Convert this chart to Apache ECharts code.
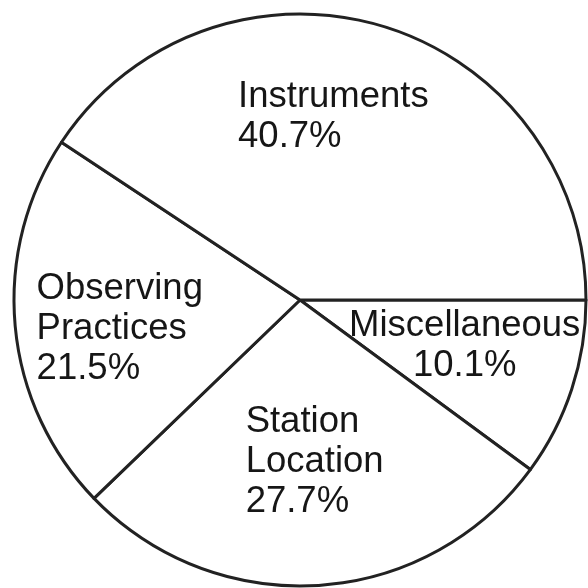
<!DOCTYPE html>
<html>
<head>
<meta charset="utf-8">
<script src="https://cdn.jsdelivr.net/npm/echarts@6/dist/echarts.min.js"></script>
<style>
	html, body { margin: 0; padding: 0; background: #fff; }
	#chart { width: 588px; height: 588px; }
</style>
</head>
<body>
<div id="chart"></div>
<script>
// Categorías y porcentajes (en orden horario desde el este)
const categorias = ['Miscellaneous', 'Station\nLocation', 'Observing\nPractices', 'Instruments']
const porcentajes = [10.1, 27.7, 21.5, 40.7]

// Ajustes de las etiquetas respecto a la posición "inside"
const ajustesEtiqueta = [
	{ dx: 26, dy: 0, align: 'center' },
	{ dx: -64, dy: 16, align: 'left' },
	{ dx: -118, dy: 16, align: 'left' },
	{ dx: -104, dy: -43, align: 'left' },
]

const chart = echarts.init(document.getElementById('chart'))

chart.setOption({
	backgroundColor: '#ffffff',
	animation: false,
	series: [
		{
			type: 'pie',
			center: [300, 300],
			radius: [0, 286],
			startAngle: 0,
			clockwise: true,
			avoidLabelOverlap: false,
			emphasis: { disabled: true },
			itemStyle: {
				color: '#ffffff',
				borderColor: '#222222',
				borderWidth: 3,
			},
			label: {
				show: true,
				position: 'inside',
				color: '#161616',
				fontFamily: 'Liberation Sans, Arial, sans-serif',
				fontSize: 36.5,
				lineHeight: 40,
				formatter: (p) => `${p.name}\n${p.value.toFixed(1)}%`,
			},
			labelLine: { show: false },
			labelLayout: (params) => {
				const a = ajustesEtiqueta[params.dataIndex]
				return { dx: a.dx, dy: a.dy, align: a.align, verticalAlign: 'middle' }
			},
			data: categorias.map((nombre, i) => ({ name: nombre, value: porcentajes[i] })),
		},
	],
})
</script>
</body>
</html>
